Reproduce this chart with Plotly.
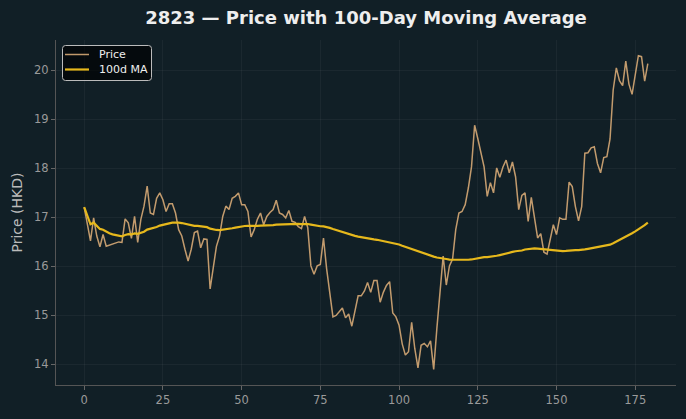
import plotly.graph_objects as go
import pandas as pd

days = list(range(180))
price = [
    17.21, 16.85, 16.52, 16.99, 16.62, 16.40, 16.65, 16.41, 16.43, 16.46,
    16.47, 16.50, 16.49, 16.97, 16.89, 16.57, 17.02, 16.49, 16.96, 17.23,
    17.64, 17.09, 17.06, 17.39, 17.50, 17.36, 17.12, 17.28, 17.28, 17.09,
    16.75, 16.62, 16.35, 16.11, 16.35, 16.69, 16.72, 16.38, 16.56, 16.55,
    15.54, 16.01, 16.41, 16.62, 17.02, 17.23, 17.16, 17.39, 17.43, 17.50,
    17.26, 17.26, 17.12, 16.60, 16.75, 16.96, 17.09, 16.85, 17.02, 17.10,
    17.16, 17.35, 17.09, 17.06, 16.99, 17.14, 16.92, 16.90, 16.81, 16.77,
    17.02, 16.79, 16.01, 15.84, 16.01, 16.04, 16.58, 15.95, 15.40, 14.97,
    15.00, 15.07, 15.15, 14.95, 15.03, 14.78, 15.07, 15.40, 15.40, 15.50,
    15.67, 15.47, 15.71, 15.71, 15.27, 15.47, 15.61, 15.69, 15.05, 14.97,
    14.80, 14.42, 14.19, 14.26, 14.86, 14.32, 13.93, 14.39, 14.43, 14.36,
    14.48, 13.90, 14.73, 15.47, 16.21, 15.62, 16.01, 16.15, 16.75, 17.09,
    17.12, 17.26, 17.60, 18.03, 18.88, 18.61, 18.34, 18.03, 17.43, 17.71,
    17.50, 18.01, 17.82, 18.03, 18.17, 17.91, 18.13, 17.83, 17.16, 17.45,
    17.50, 16.92, 17.41, 16.99, 16.58, 16.67, 16.29, 16.25, 16.55, 16.85,
    16.65, 16.99, 16.96, 16.96, 17.72, 17.63, 17.22, 16.93, 17.22, 18.31,
    18.32, 18.42, 18.44, 18.10, 17.91, 18.22, 18.24, 18.60, 19.60, 20.05,
    19.79, 19.69, 20.19, 19.72, 19.51, 19.93, 20.30, 20.28, 19.78, 20.14,
]
ma_window = 100
ma = pd.Series(price).rolling(ma_window, min_periods=1).mean().tolist()

series_names = ["Price", "100d MA"]
x_ticks = [0, 25, 50, 75, 100, 125, 150, 175]
y_ticks = [14, 15, 16, 17, 18, 19, 20]

BG = "#111f26"
GRID = "rgba(255,255,255,0.045)"
FONT = "DejaVu Sans"
PRICE_COLOR = "rgba(214,168,118,0.9)"
MA_COLOR = "#e6b81c"

W, H = 686, 419
ML, MR, MT, MB = 56, 10, 40, 34
PW, PH = W - ML - MR, H - MT - MB


def px_x(p):
    return (p - ML) / PW


def px_y(p):
    return (H - MB - p) / PH


fig = go.Figure()
fig.add_trace(go.Scatter(x=days, y=price, mode="lines", name=series_names[0],
                         line=dict(color=PRICE_COLOR, width=1.5)))
fig.add_trace(go.Scatter(x=days, y=ma, mode="lines", name=series_names[1],
                         line=dict(color=MA_COLOR, width=2.2)))

lo, hi = min(price), max(price)
pad = (hi - lo) * 0.05
xpad = (days[-1] - days[0]) * 0.05

# legend box (drawn manually to match compact matplotlib-like legend)
x0, x1, y0, y1 = 62.5, 151.5, 45.5, 80.5
r = 3
path = (f"M {px_x(x0 + r)} {px_y(y0)} L {px_x(x1 - r)} {px_y(y0)} "
        f"Q {px_x(x1)} {px_y(y0)} {px_x(x1)} {px_y(y0 + r)} "
        f"L {px_x(x1)} {px_y(y1 - r)} Q {px_x(x1)} {px_y(y1)} {px_x(x1 - r)} {px_y(y1)} "
        f"L {px_x(x0 + r)} {px_y(y1)} Q {px_x(x0)} {px_y(y1)} {px_x(x0)} {px_y(y1 - r)} "
        f"L {px_x(x0)} {px_y(y0 + r)} Q {px_x(x0)} {px_y(y0)} {px_x(x0 + r)} {px_y(y0)} Z")
shapes = [dict(type="path", path=path, xref="paper", yref="paper",
               fillcolor="rgba(0,0,0,0.65)", line=dict(color="#bbbbbb", width=1),
               layer="above")]
annotations = []
for name, color, width, ly in [(series_names[0], PRICE_COLOR, 1.5, 54.5),
                               (series_names[1], MA_COLOR, 2.2, 69.5)]:
    shapes.append(dict(type="line", xref="paper", yref="paper",
                       x0=px_x(65), x1=px_x(89), y0=px_y(ly), y1=px_y(ly),
                       line=dict(color=color, width=width), layer="above"))
    annotations.append(dict(text=name, xref="paper", yref="paper",
                            x=px_x(97), y=px_y(ly), xanchor="left", yanchor="middle",
                            showarrow=False,
                            font=dict(family=FONT, size=11, color="#eeeeee")))

fig.update_layout(
    width=W, height=H,
    margin=dict(l=ML, r=MR, t=MT, b=MB),
    paper_bgcolor=BG, plot_bgcolor=BG,
    font=dict(family=FONT, color="#9a9a9a", size=11.5),
    title=dict(text="<b>2823 — Price with 100-Day Moving Average</b>",
               x=0.5, xref="paper", xanchor="center",
               y=1 - 18 / H, yref="container", yanchor="middle",
               font=dict(family=FONT, size=18, color="#eeeeee")),
    showlegend=False,
    shapes=shapes,
    annotations=annotations,
    xaxis=dict(range=[days[0] - xpad, days[-1] + xpad], tickvals=x_ticks,
               showgrid=True, gridcolor=GRID, gridwidth=1, zeroline=False,
               showline=True, linecolor="#555555", linewidth=1,
               ticks="outside", ticklen=4, tickcolor="#666666",
               tickfont=dict(color="#9a9a9a", size=11.5)),
    yaxis=dict(range=[lo - pad, hi + pad], tickvals=y_ticks,
               showgrid=True, gridcolor=GRID, gridwidth=1, zeroline=False,
               showline=True, linecolor="#555555", linewidth=1,
               ticks="outside", ticklen=4, tickcolor="#666666",
               tickfont=dict(color="#9a9a9a", size=11.5),
               title=dict(text="Price (HKD)", standoff=8,
                          font=dict(family=FONT, size=14, color="#bbbbbb"))),
)

fig.write_html("out.html")
